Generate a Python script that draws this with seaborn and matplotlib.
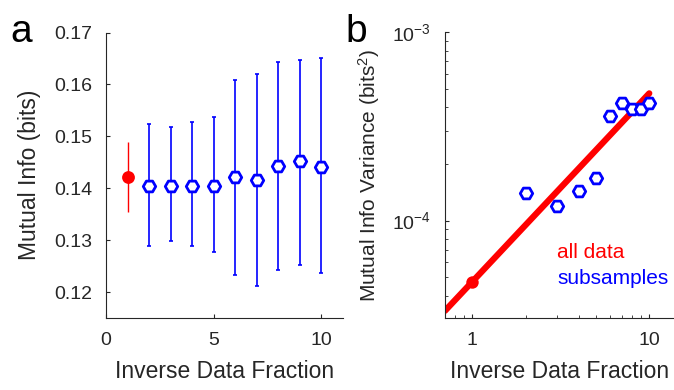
import numpy as np
import pandas as pd
import matplotlib
matplotlib.use("Agg")
import matplotlib.pyplot as plt
import seaborn as sns
from matplotlib.ticker import LogLocator, NullFormatter

sns.set_style("ticks")
plt.rcParams['font.family'] = ['Liberation Sans', 'DejaVu Sans']
plt.rcParams['mathtext.fontset'] = 'custom'
plt.rcParams['mathtext.rm'] = 'Liberation Sans'
plt.rcParams['mathtext.it'] = 'Liberation Sans'

# ---- data ----
all_x = [1]
all_mi = [0.1422]
all_lo = [0.1354]
all_hi = [0.1490]

sub_x = [2, 3, 4, 5, 6, 7, 8, 9, 10]
sub_mi = [0.1405, 0.1405, 0.1405, 0.1405, 0.1421, 0.1416, 0.1442, 0.1452, 0.1441]
sub_lo = [0.1288, 0.1299, 0.1288, 0.1278, 0.1232, 0.1212, 0.1242, 0.1252, 0.1236]
sub_hi = [0.1523, 0.1517, 0.1527, 0.1538, 0.1609, 0.1621, 0.1643, 0.1647, 0.1650]

all_var = [4.74e-5]
sub_var = [1.40e-4, 1.19e-4, 1.43e-4, 1.68e-4, 3.59e-4, 4.19e-4, 3.91e-4, 3.91e-4, 4.19e-4]

fit_x = [0.7, 10]
fit_y = [3.32e-5, 4.74e-4]

RED = '#ff0000'
BLUE = '#0000ff'
GRAY = '#262626'
LAB = 16.5
TCK = 14

fig = plt.figure(figsize=(6.74, 3.9), dpi=100)
axA = fig.add_axes([106/674, 1-318/390, (342.7-106)/674, (318-32.5)/390])
axB = fig.add_axes([445/674, 1-318/390, (674-445)/674, (318-32.3)/390])

# ---- panel a ----
df_all = pd.DataFrame({'x': all_x, 'mi': all_mi})
df_sub = pd.DataFrame({'x': sub_x, 'mi': sub_mi})
axA.errorbar(all_x, all_mi,
             yerr=[np.array(all_mi) - np.array(all_lo), np.array(all_hi) - np.array(all_mi)],
             fmt='none', ecolor=RED, elinewidth=1.0, capsize=0, zorder=2)
axA.errorbar(sub_x, sub_mi,
             yerr=[np.array(sub_mi) - np.array(sub_lo), np.array(sub_hi) - np.array(sub_mi)],
             fmt='none', ecolor=BLUE, elinewidth=1.2, capsize=1.5, capthick=1.2, zorder=2)
sns.scatterplot(data=df_all, x='x', y='mi', ax=axA, marker='o', s=85,
                color=RED, edgecolor=RED, linewidth=0, zorder=3)
sns.scatterplot(data=df_sub, x='x', y='mi', ax=axA, marker='H', s=80,
                facecolor='white', edgecolor=BLUE, linewidth=2.0, zorder=3)
axA.set_xlim(0, 11)
axA.set_ylim(0.115, 0.17)
axA.set_xticks([0, 5, 10])
axA.set_yticks([0.12, 0.13, 0.14, 0.15, 0.16, 0.17])
axA.set_yticklabels(['0.12', '0.13', '0.14', '0.15', '0.16', '0.17'])
axA.set_xlabel('Inverse Data Fraction', fontsize=LAB, color=GRAY, labelpad=8)
axA.set_ylabel('Mutual Info (bits)', fontsize=LAB, color=GRAY, labelpad=9)
axA.tick_params(direction='in', length=3, width=0.8, labelsize=TCK, colors=GRAY, pad=10)
sns.despine(ax=axA)
for s in ['left', 'bottom']:
    axA.spines[s].set_color(GRAY)
    axA.spines[s].set_linewidth(0.8)
fig.text(10/674, 1-42/390, 'a', fontsize=28, color='black')

# ---- panel b ----
df_bv_all = pd.DataFrame({'x': all_x, 'v': all_var})
df_bv_sub = pd.DataFrame({'x': sub_x, 'v': sub_var})
df_fit = pd.DataFrame({'x': fit_x, 'v': fit_y})
axB.set_xscale('log')
axB.set_yscale('log')
sns.lineplot(data=df_fit, x='x', y='v', ax=axB, color=RED, linewidth=4.5, zorder=2)
sns.scatterplot(data=df_bv_all, x='x', y='v', ax=axB, marker='o', s=80,
                color=RED, edgecolor=RED, linewidth=0, zorder=3)
sns.scatterplot(data=df_bv_sub, x='x', y='v', ax=axB, marker='H', s=80,
                facecolor='white', edgecolor=BLUE, linewidth=2.0, zorder=3)
axB.set_xlim(0.7, 13.8)
axB.set_ylim(3.04e-5, 1e-3)
axB.set_xticks([1, 10])
axB.set_xticklabels(['1', '10'])
axB.set_yticks([1e-4, 1e-3])
axB.set_yticklabels([r'$10^{-4}$', r'$10^{-3}$'])
axB.xaxis.set_minor_locator(LogLocator(base=10, subs=np.arange(2, 10)))
axB.yaxis.set_minor_locator(LogLocator(base=10, subs=np.arange(2, 10)))
axB.xaxis.set_minor_formatter(NullFormatter())
axB.yaxis.set_minor_formatter(NullFormatter())
axB.set_xlabel('Inverse Data Fraction', fontsize=LAB, color=GRAY, labelpad=8)
axB.set_ylabel(r'Mutual Info Variance (bits$^2$)', fontsize=15, color=GRAY, labelpad=7)
axB.tick_params(which='major', direction='in', length=3, width=0.8, labelsize=TCK, colors=GRAY, pad=10)
axB.tick_params(which='minor', direction='in', length=2, width=0.6, colors=GRAY)
sns.despine(ax=axB)
for s in ['left', 'bottom']:
    axB.spines[s].set_color(GRAY)
    axB.spines[s].set_linewidth(0.8)
axB.text(557/674, 1-252/390, 'all data', transform=fig.transFigure, fontsize=15,
         color=RED, va='center', ha='left')
axB.text(557/674, 1-279/390, 'subsamples', transform=fig.transFigure, fontsize=15,
         color=BLUE, va='center', ha='left')
fig.text(345/674, 1-42/390, 'b', fontsize=28, color='black')

fig.savefig('out.png', dpi=100)
